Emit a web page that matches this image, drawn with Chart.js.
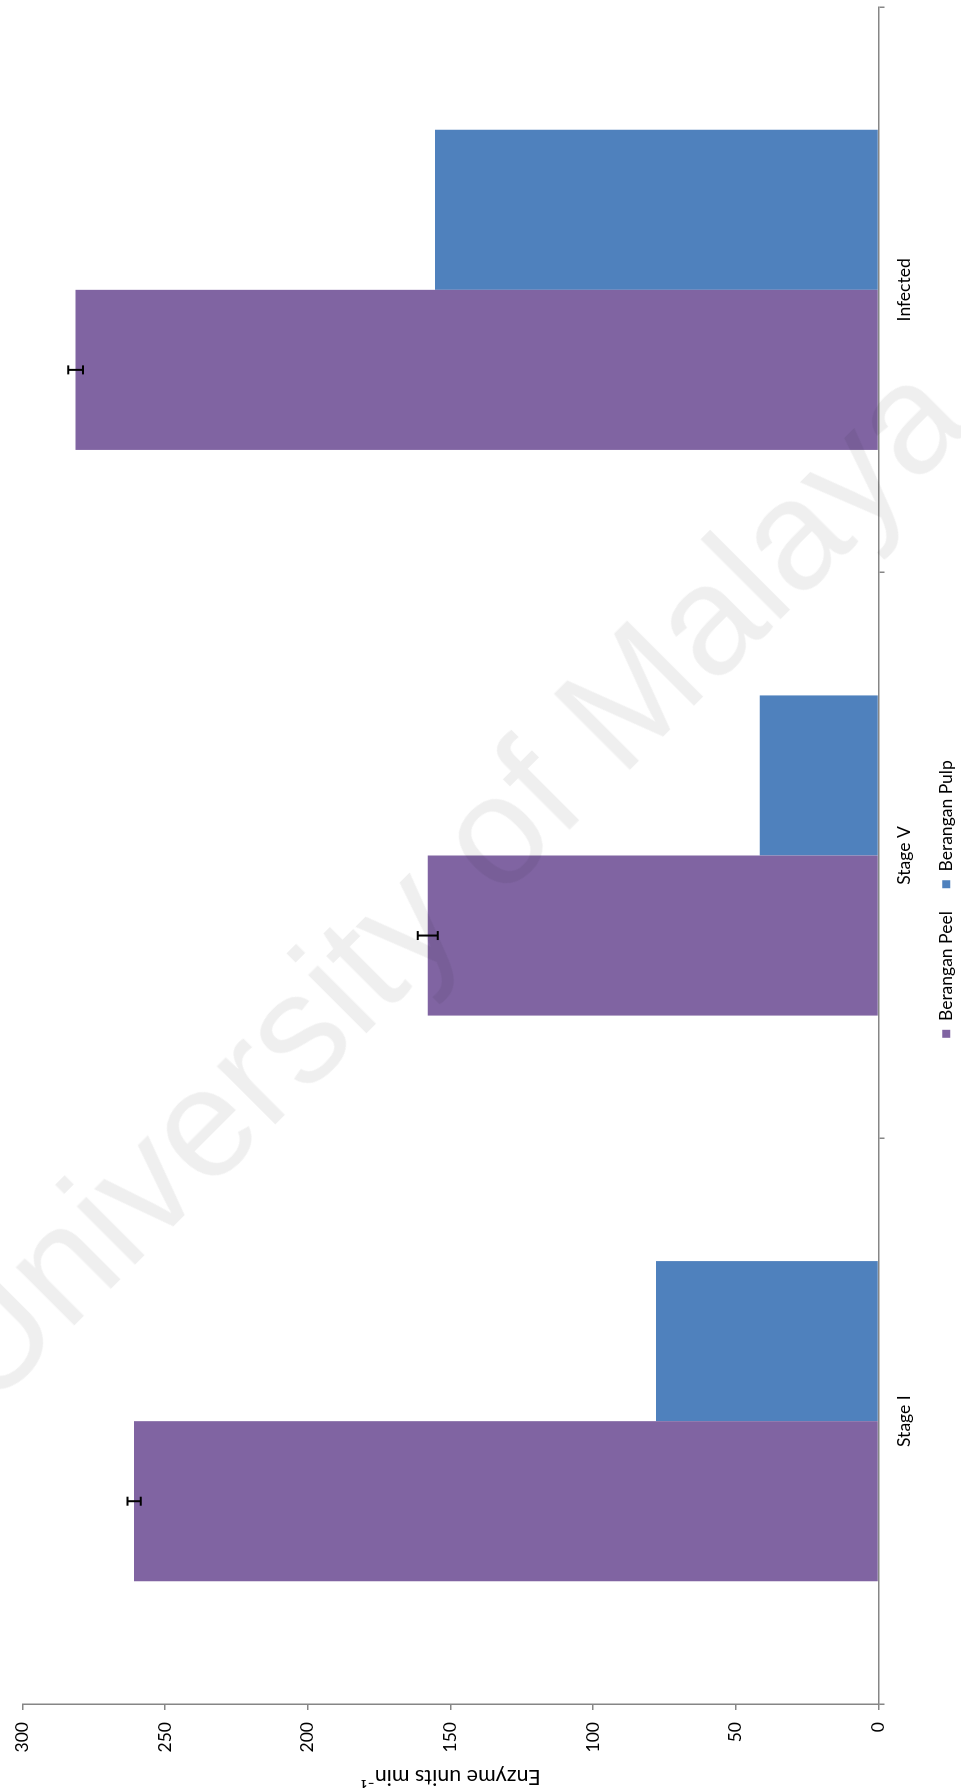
<!DOCTYPE html>
<html>
<head>
<meta charset="utf-8">
<script src="https://cdn.jsdelivr.net/npm/chart.js@4.4.1/dist/chart.umd.min.js"></script>
<style>
  html, body { margin: 0; padding: 0; background: #fff; overflow: hidden; }
  body { width: 961px; height: 1791px; position: relative; }
  /* chart is laid out as normal columns, then turned a quarter turn counter-clockwise */
  #wrap {
    position: absolute; left: 0; top: 0;
    width: 1791px; height: 961px;
    transform-origin: 0 0;
    transform: translate(0, 1791px) rotate(-90deg);
  }
  #watermark {
    position: absolute; left: 443px; top: 881px;
    transform: translate(-50%, -50%) rotate(-45deg);
    font-family: "Liberation Sans", Arial, sans-serif;
    font-size: 155px; line-height: 1; white-space: nowrap;
    color: rgba(0, 0, 0, 0.063);
    pointer-events: none;
  }
</style>
</head>
<body>
<div id="wrap"><canvas id="enzymeChart" width="1791" height="961"></canvas></div>
<div id="watermark">University of Malaya</div>
<script>
// enzyme activity per ripening stage
var stages = ['Stage I', 'Stage V', 'Infected'];
var peelValues = [260.9, 158.0, 281.4];
var pulpValues = [78.0, 41.6, 155.4];
var peelErrors = [2.3, 3.5, 2.6];
var yTicks = [0, 50, 100, 150, 200, 250, 300];

var axisGrey = '#868686';
var labelFont = { family: 'Lato', size: 17.5 };

// black error bars with flat caps on the peel columns
var errorBars = {
  id: 'errorBars',
  afterDatasetsDraw: function (chart) {
    var ctx = chart.ctx;
    var y = chart.scales.y;
    var meta = chart.getDatasetMeta(0);
    ctx.save();
    ctx.strokeStyle = '#000';
    ctx.lineWidth = 2;
    meta.data.forEach(function (bar, i) {
      var hi = y.getPixelForValue(peelValues[i] + peelErrors[i]);
      var lo = y.getPixelForValue(peelValues[i] - peelErrors[i]);
      ctx.beginPath();
      ctx.moveTo(bar.x, hi); ctx.lineTo(bar.x, lo);
      ctx.moveTo(bar.x - 4.5, hi); ctx.lineTo(bar.x + 4.5, hi);
      ctx.moveTo(bar.x - 4.5, lo); ctx.lineTo(bar.x + 4.5, lo);
      ctx.stroke();
    });
    ctx.restore();
  }
};

var ctx = document.getElementById('enzymeChart').getContext('2d');
var enzymeChart = new Chart(ctx, {
  type: 'bar',
  data: {
    labels: stages,
    datasets: [{
      label: 'Berangan Peel',
      data: peelValues,
      backgroundColor: '#8064A2',
      borderWidth: 0
    }, {
      label: 'Berangan Pulp',
      data: pulpValues,
      backgroundColor: '#4F81BD',
      borderWidth: 0
    }]
  },
  options: {
    responsive: false,
    animation: false,
    layout: { padding: { left: 0, right: 7, top: 19, bottom: -4 } },
    datasets: { bar: { categoryPercentage: 0.566, barPercentage: 1 } },
    plugins: {
      tooltip: { enabled: false },
      legend: {
        position: 'bottom',
        labels: {
          font: labelFont,
          color: '#000',
          boxWidth: 8,
          boxHeight: 8,
          padding: 23
        }
      }
    },
    scales: {
      x: {
        grid: { drawOnChartArea: false, offset: true, tickLength: 6, color: axisGrey, lineWidth: 1.5 },
        border: { color: axisGrey, width: 1.5 },
        ticks: { font: labelFont, color: '#000', padding: 9, maxRotation: 0 },
        afterFit: function (scale) { scale.height = 36; }
      },
      y: {
        min: 0,
        max: 300,
        afterBuildTicks: function (scale) {
          scale.ticks = yTicks.map(function (v) { return { value: v }; });
        },
        grid: { drawOnChartArea: false, tickLength: 6, color: axisGrey, lineWidth: 1.5 },
        border: { color: axisGrey, width: 1.5 },
        ticks: { font: labelFont, color: '#000', padding: 12 },
        title: {
          display: true,
          text: 'Enzyme units min\u207B\u00B9',
          font: { family: 'Lato', size: 21.5 },
          color: '#000',
          padding: { top: 1, bottom: 0 }
        },
        afterFit: function (scale) { scale.width = 87; }
      }
    }
  },
  plugins: [errorBars]
});
</script>
</body>
</html>
